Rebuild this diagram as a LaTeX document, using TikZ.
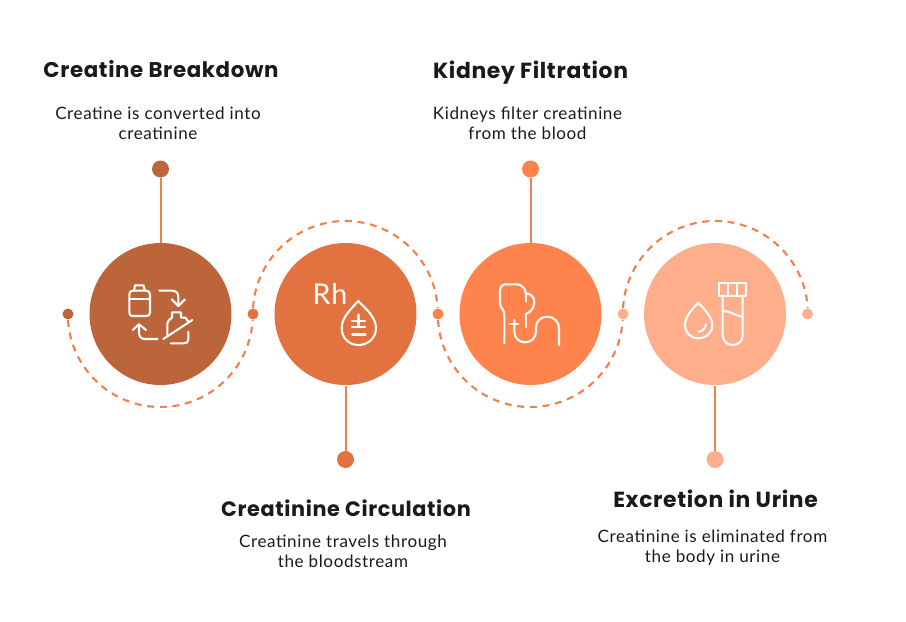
\documentclass[tikz,border=0pt]{standalone}
\usepackage{fontspec}
\setmainfont[LetterSpace=3.5]{Lato}
\newfontfamily\headfont[LetterSpace=3]{Poppins}
\definecolor{stepone}{RGB}{188,101,59}
\definecolor{steptwo}{RGB}{226,114,64}
\definecolor{stepthree}{RGB}{255,131,77}
\definecolor{stepfour}{RGB}{255,174,140}
\definecolor{linkcol}{RGB}{240,128,80}
\definecolor{inkcol}{RGB}{26,26,26}
\tikzset{every picture/.style={line width=0.75pt}}
\tikzset{
  bigdisc/.style={circle,inner sep=0pt,minimum size=106.5pt},
  smalldot/.style={circle,inner sep=0pt,minimum size=8.25pt},
  enddot/.style={circle,inner sep=0pt,minimum size=12.75pt},
  stem/.style={draw=linkcol,line width=1.5pt},
  link/.style={draw=linkcol,line width=1.6pt,dash pattern={on 5.2pt off 4.3pt}},
  icon/.style={draw=white,line width=1.55pt,line cap=round,line join=round},
  headtext/.style={font=\headfont\bfseries\fontsize{16}{20}\selectfont,text=inkcol,inner sep=0pt},
  widehead/.style={font=\headfont\bfseries\fontsize{16.4}{20}\selectfont},
  bodytext/.style={font=\fontsize{12.8}{15}\selectfont,text=inkcol,align=center,inner sep=0pt}
}

\begin{document}
\begin{tikzpicture}[x=0.75pt,y=0.75pt,yscale=-1,xscale=1]
\useasboundingbox (0,0) rectangle (906,621);

%Discs
\node [bigdisc,fill=stepone] (discA) at (160.5,314) {};
\node [bigdisc,fill=steptwo] (discB) at (345.5,314) {};
\node [bigdisc,fill=stepthree] (discC) at (530.5,314) {};
\node [bigdisc,fill=stepfour] (discD) at (715,314) {};

%Dots on the wave
\node [smalldot,fill=stepone] (waveA) at (68,314) {};
\node [smalldot,fill=steptwo] (waveB) at (253,314) {};
\node [smalldot,fill=stepthree] (waveC) at (438,314) {};
\node [smalldot,fill=stepfour] (waveD) at (623,314) {};
\node [smalldot,fill=stepfour] (waveE) at (807.5,314) {};

%Wave
\draw [link] (waveA.south) arc [start angle=176.6,end angle=3.4,radius=92.5];
\draw [link] (waveB.north) arc [start angle=183.4,end angle=356.6,radius=92.5];
\draw [link] (waveC.south) arc [start angle=176.6,end angle=3.4,radius=92.5];
\draw [link] (waveD.north) arc [start angle=183.4,end angle=356.6,radius=92.5];

%End dots and stems
\node [enddot,fill=stepone] (tipA) at (160.5,169) {};
\node [enddot,fill=steptwo] (tipB) at (345.5,459.5) {};
\node [enddot,fill=stepthree] (tipC) at (530.5,169) {};
\node [enddot,fill=stepfour] (tipD) at (715,459.5) {};
\draw [stem] (tipA) -- (discA);
\draw [stem] (tipB) -- (discB);
\draw [stem] (tipC) -- (discC);
\draw [stem] (tipD) -- (discD);

%Titles
\node [headtext] (headA) at (161,69) {Creatine Breakdown};
\node [headtext,font=\headfont\bfseries\fontsize{15.6}{20}\selectfont] (headB) at (346,508) {Creatinine Circulation};
\node [headtext,widehead] (headC) at (530.5,73) {Kidney Filtration};
\node [headtext,widehead] (headD) at (715.5,499) {Excretion in Urine};

%Texts
\node [bodytext] (bodyA) at (158,123) {Creatine is converted into\\creatinine};
\node [bodytext] (bodyB) at (343,551) {Creatinine travels through\\the bloodstream};
\node [bodytext] (bodyC) at (527.5,123) {Kidneys filter creatinine\\from the blood};
\node [bodytext] (bodyD) at (712.5,548) {Creatinine is eliminated from\\the body in urine};

%Icon: batteries
\draw [icon] (133,290.7) -- (146,290.7) .. controls (148.7,290.7) and (150,292) .. (150,294.5) -- (150,312.5) .. controls (150,315) and (148.7,316) .. (146,316) -- (133,316) .. controls (130.5,316) and (129.3,315) .. (129.3,312.5) -- (129.3,294.5) .. controls (129.3,292) and (130.5,290.7) .. (133,290.7) -- cycle ;
\draw [icon] (134,290.7) -- (135,285.3) -- (143.5,285.3) -- (145,290.7) ;
\draw [icon] (129.3,299.3) -- (150,299.3) ;
\draw [icon] (159.3,290.7) -- (172,290.7) .. controls (176,290.7) and (178.3,293) .. (178.3,297) -- (178.3,306) ;
\draw [icon] (171.7,299.3) -- (178.3,306) -- (185,299.3) ;
\draw [icon] (157.7,339) -- (145,339) .. controls (141,339) and (139,336.5) .. (139,332.5) -- (139,324.3) ;
\draw [icon] (132.7,330) -- (139,324.3) -- (146,330) ;
\draw [icon] (167.3,336) -- (167.3,323.5) .. controls (167.3,321) and (170,319) .. (172,317.7) -- (172,312.3) -- (181,312.3) -- (181,317.7) -- (185.5,317.7) -- (188.3,321.5) ;
\draw [icon] (188.3,331.7) -- (188.3,339) .. controls (188.3,342) and (187,343.3) .. (184,343.3) -- (170.7,343.3) ;
\draw [icon] (163.3,339) -- (192.3,320) ;

%Icon: Rh drop
\node [text=white,font=\fontsize{21.5}{24}\selectfont,inner sep=0pt] (rhtext) at (330,293.5) {Rh};
\draw [icon] (358.3,301) .. controls (352,308) and (341.7,317) .. (341.7,328) .. controls (341.7,338) and (349,345) .. (358.5,345) .. controls (368,345) and (376,338) .. (376,328) .. controls (376,317) and (365,308) .. (358.3,301) -- cycle ;
\draw [icon] (352,321) -- (365,321) ;
\draw [icon] (358.5,314.5) -- (358.5,327.3) ;
\draw [icon] (352,327.3) -- (365,327.3) ;
\draw [icon] (352.3,334.5) -- (365.7,334.5) ;

%Icon: kidney and tube
\draw [icon] (504.3,343.3) -- (504.3,315) .. controls (504.3,309) and (500,308) .. (500,303.3) -- (500,291) .. controls (500,287) and (502,284.3) .. (506,284.3) -- (516.7,284.3) .. controls (521,284.3) and (525.7,288) .. (525.7,293.3) .. controls (531,293.5) and (534.3,297.5) .. (534.3,302) .. controls (534.3,308) and (530,313) .. (525.7,314) ;
\draw [icon] (525.7,293.3) -- (525.7,301.7) ;
\draw [icon] (525.7,314) -- (525.7,327.3) ;
\draw [icon] (510,324.3) -- (518.3,324.3) ;
\draw [icon] (514.3,320) -- (514.3,331.7) .. controls (514.3,338) and (519,342.3) .. (525,342.3) .. controls (531,342.3) and (536,338) .. (536,331.7) -- (536,327.5) .. controls (536,321) and (541,316.7) .. (547.3,316.7) .. controls (554,316.7) and (559,322) .. (559,328.3) -- (559,345) ;

%Icon: drop and test tube
\draw [icon] (698.3,302.7) .. controls (692,309) and (685,317) .. (685,325) .. controls (685,333) and (691,338.3) .. (698.5,338.3) .. controls (706,338.3) and (712.3,333) .. (712.3,325) .. controls (712.3,317) and (704,309) .. (698.3,302.7) -- cycle ;
\draw [icon] (698.3,331.7) .. controls (702.5,331.5) and (705.5,328.5) .. (706,324.3) ;
\draw [icon] (719.3,283.3) rectangle (746,295.7) ;
\draw [icon] (728.3,283.3) -- (728.3,295.7) ;
\draw [icon] (737.3,283.3) -- (737.3,295.7) ;
\draw [icon] (722.7,295.7) -- (722.7,335) .. controls (722.7,341) and (727,345) .. (732.7,345) .. controls (738.5,345) and (742.7,341) .. (742.7,335) -- (742.7,295.7) ;
\draw [icon] (722.7,311) .. controls (730,310.5) and (735,316) .. (742.7,316.7) ;

\end{tikzpicture}
\end{document}
